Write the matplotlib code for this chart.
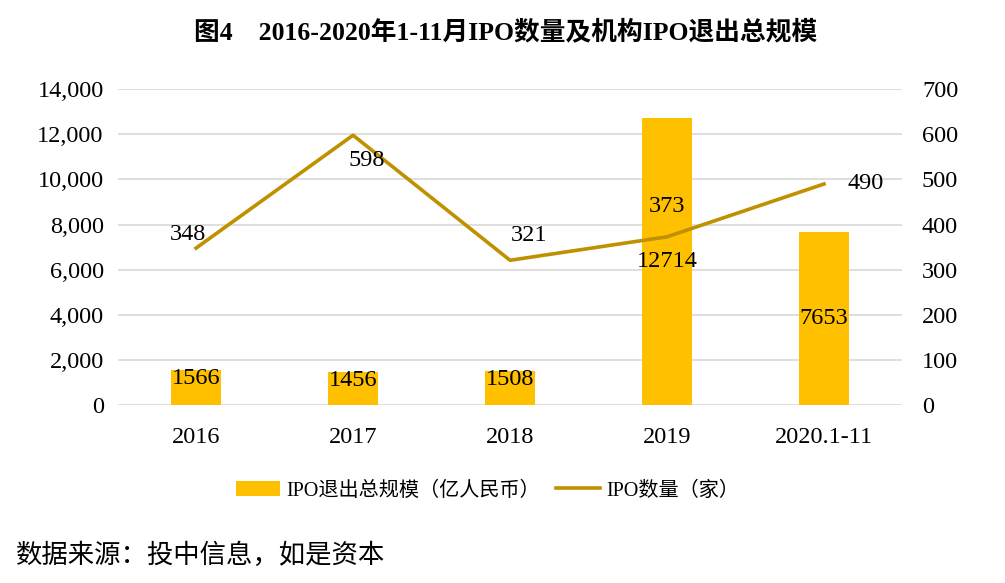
import matplotlib
matplotlib.use("Agg")
import matplotlib.pyplot as plt
import numpy as np

plt.rcParams['font.family'] = ['Liberation Serif', 'Noto Sans CJK SC']

# Daten
years = ['2016', '2017', '2018', '2019', '2020.1-11']
exit_scale = [1566, 1456, 1508, 12714, 7653]
ipo_count = [348, 598, 321, 373, 490]
left_ticks = [0, 2000, 4000, 6000, 8000, 10000, 12000, 14000]
right_ticks = [0, 100, 200, 300, 400, 500, 600, 700]

bar_color = '#FFC000'
line_color = '#BF9000'

fig = plt.figure(figsize=(10.05, 5.83), dpi=100)
ax = fig.add_axes([0.117, 0.305, 0.781, 0.542])
ax2 = ax.twinx()

x = np.arange(len(years))
bars = ax.bar(x, exit_scale, width=0.32, color=bar_color, zorder=2,
              label='IPO退出总规模（亿人民币）')
ax.set_ylim(0, 14000)
ax.set_xlim(-0.5, len(years) - 0.5)
ax.set_yticks(left_ticks)
ax.set_yticklabels([f'{v:,}' for v in left_ticks])
ax.set_xticks(x)
ax.set_xticklabels(years)
ax.grid(axis='y', color='#d9d9d9', linewidth=1.2, zorder=0)
ax.set_axisbelow(True)

for xi, v in zip(x, exit_scale):
    ax.text(xi, v / 2 if v > 5000 else v * 0.75, str(v), ha='center', va='center',
            fontsize=17.5, zorder=5)

line, = ax2.plot(x, ipo_count, color=line_color, linewidth=2.6, zorder=3,
                 label='IPO数量（家）')
ax2.set_ylim(0, 700)
ax2.set_yticks(right_ticks)

offsets = [(-6, 10), (10, -18), (14, 18), (0, 22), (30, 0)]
for xi, v, off in zip(x, ipo_count, offsets):
    ax2.annotate(str(v), (xi, v), xytext=off, textcoords='offset points',
                 ha='center', va='center', fontsize=17.5)

for a in (ax, ax2):
    for s in a.spines.values():
        s.set_visible(False)
    a.tick_params(length=0, labelsize=17.5)
ax.tick_params(axis='x', pad=16)
ax.tick_params(axis='y', pad=10)
ax2.tick_params(axis='y', pad=14)

fig.legend(handles=[bars, line], loc='center', bbox_to_anchor=(0.485, 0.158),
           ncol=2, frameon=False, fontsize=14.5, handlelength=2.2,
           columnspacing=0.8, handletextpad=0.3)

fig.text(0.503, 0.945, '图4    2016-2020年1-11月IPO数量及机构IPO退出总规模',
         ha='center', va='center', fontsize=18.5, fontweight='bold')
fig.text(0.016, 0.047, '数据来源：投中信息，如是资本', ha='left', va='center',
         fontsize=19, family=['Noto Sans CJK SC'])

fig.savefig('out.png', dpi=100)
